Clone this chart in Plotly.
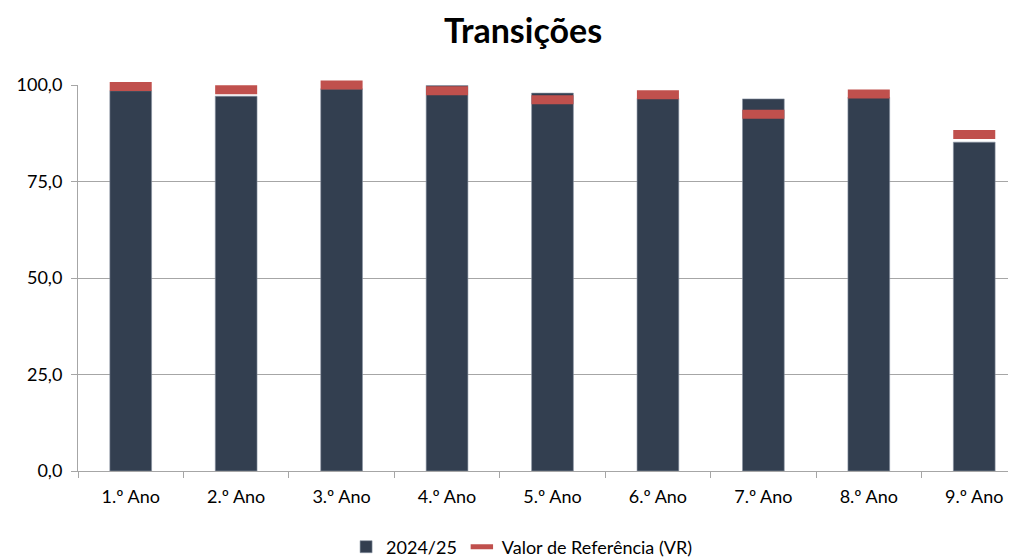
import plotly.graph_objects as go

categories = ["1.º Ano", "2.º Ano", "3.º Ano", "4.º Ano", "5.º Ano", "6.º Ano", "7.º Ano", "8.º Ano", "9.º Ano"]
values_2024 = [98.5, 97.1, 99.0, 99.9, 97.9, 96.5, 96.4, 96.8, 85.2]
values_vr = [99.6, 98.8, 100.0, 98.5, 96.2, 97.5, 92.4, 97.7, 87.2]
y_ticks = [0, 25, 50, 75, 100]

BAR = "#333F50"
RED = "#C0504D"
FONT = "Lato"

W, H = 1008, 550  # page body adds an 8px offset

fig = go.Figure()
fig.add_trace(go.Bar(
    x=categories, y=values_2024, name="2024/25",
    marker=dict(color=BAR, line=dict(color="#8A94A3", width=0.6)),
))
fig.add_trace(go.Scatter(
    x=categories, y=values_vr, name="Valor de Referência (VR)", mode="markers",
    marker=dict(symbol="line-ew", size=30, line=dict(color=RED, width=9)),
    cliponaxis=False,
))

fig.update_layout(
    width=W, height=H,
    margin=dict(l=70, r=0, t=77, b=87, autoexpand=False),
    paper_bgcolor="white", plot_bgcolor="white",
    separators=", ",
    bargap=0.604,
    title=dict(text="<b>Transições</b>", x=0.511, xanchor="center", xref="container",
               y=1 - 23 / H, yanchor="middle", yref="container",
               font=dict(family=FONT, size=34, color="black")),
    font=dict(family=FONT, size=18, color="black"),
    showlegend=True,
    legend=dict(orientation="h", x=0.51, xanchor="center", xref="container",
                y=11 / H, yanchor="middle", yref="container",
                font=dict(family=FONT, size=18, color="black"), itemwidth=30, traceorder="normal"),
    xaxis=dict(range=[-0.5, 8.396], showgrid=False, showline=True, linecolor="#A6A6A6", linewidth=1,
               ticks="outside", tickson="boundaries", ticklen=6, tickcolor="#A6A6A6", automargin=False,
               ticklabelstandoff=9,
               tickfont=dict(family=FONT, size=18, color="black")),
    yaxis=dict(range=[0, 100], tickvals=y_ticks, tickformat=".1f", showgrid=True, gridcolor="#A6A6A6",
               gridwidth=1, showline=True, linecolor="#A6A6A6", linewidth=1, ticks="outside",
               ticklen=6, tickcolor="#A6A6A6", zeroline=False, automargin=False,
               ticklabelstandoff=5,
               tickfont=dict(family=FONT, size=18, color="black")),
)

fig.write_html("out.html")
